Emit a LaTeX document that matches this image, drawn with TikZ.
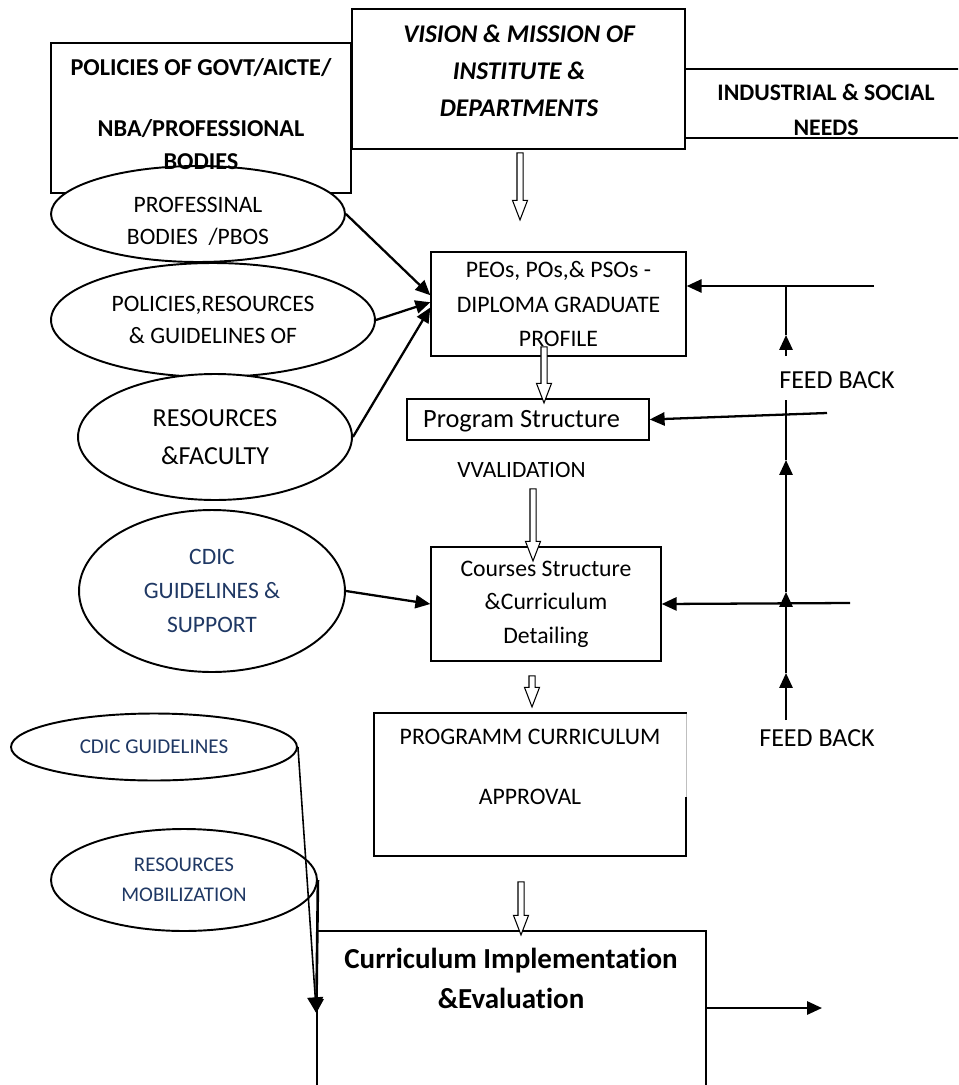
\documentclass[tikz,border=0pt]{standalone}
\usepackage{fontspec}
\setmainfont{Carlito}[Ligatures=NoCommon, RawFeature={-clig}]
\usepackage{tikz}
\usetikzlibrary{positioning, arrows.meta, shapes.geometric, shapes.arrows}
\definecolor{cdicblue}{HTML}{1F3864}
\newcommand{\fsz}[2]{\fontsize{#1}{#2}\selectfont}

\tikzset{
  box/.style={draw, rectangle, line width=0.8pt, inner sep=0pt, align=center},
  oval/.style={draw, ellipse, fill=white, line width=1.1pt, inner sep=0pt, align=center},
  txt/.style={inner sep=0pt, align=center},
  link/.style={line width=1.3pt, -{Triangle[length=8.5pt, width=7.5pt]}},
  fline/.style={line width=1.3pt},
  hollow/.style={draw, fill=white, single arrow, line width=0.6pt, inner sep=0.05cm,
    single arrow head extend=0.09cm, single arrow tip angle=42, rotate=-90},
}

\begin{document}
\begin{tikzpicture}[x=0.02cm, y=-0.02cm]
\useasboundingbox (0,0) rectangle (958,1085);
\clip (0,0) rectangle (958,1085);

% top boxes
\node[box, minimum width=6cm, minimum height=3cm] (govt) at (201,118) {};
\node[box, minimum width=5.64cm, minimum height=1.38cm, anchor=west] (needs) at (685,103.5) {};
\node[txt, font=\fsz{13.5}{19.8}\bfseries] (needstxt) at (826,109.5) {INDUSTRIAL \& SOCIAL\\NEEDS};
\node[box, minimum width=6.66cm, minimum height=2.8cm] (vision) at (518.5,79) {};
\node[txt, font=\fsz{14.5}{21}\bfseries\itshape] (visiontxt) at (519,71)
  {VISION \& MISSION OF\\INSTITUTE \&\\DEPARTMENTS};

% inputs on the left
\node[oval, minimum width=5.88cm, minimum height=1.92cm] (pbos) at (198,214) {};
\node[txt, font=\fsz{13.4}{18.1}] (pbostxt) at (198,221) {PROFESSINAL\\BODIES\ \ /PBOS};
\node[txt, font=\fsz{13.8}{18.7}\bfseries] (govttxt) at (201,114)
  {POLICIES OF GOVT/AICTE/\\[15.9pt]NBA/PROFESSIONAL\\BODIES};
\node[oval, font=\fsz{13.4}{18.7}, minimum width=6.48cm, minimum height=2.28cm] (policies) at (213,320)
  {POLICIES,RESOURCES\\\& GUIDELINES OF};
\node[oval, font=\fsz{14.8}{21.5}, minimum width=5.48cm, minimum height=2.52cm] (faculty) at (215,437)
  {RESOURCES\\\&FACULTY};
\node[oval, font=\fsz{13.4}{19.3}, text=cdicblue, minimum width=5.32cm, minimum height=3.24cm] (support) at (212,591)
  {CDIC\\GUIDELINES \&\\SUPPORT};
\node[oval, font=\fsz{12}{14}, text=cdicblue, minimum width=5.72cm, minimum height=1.34cm] (cdic) at (154,747)
  {CDIC GUIDELINES};
\node[oval, font=\fsz{11.9}{17}, text=cdicblue, minimum width=5.32cm, minimum height=2.04cm] (mobil) at (184,880)
  {RESOURCES\\MOBILIZATION};

% main column
\node[box, font=\fsz{13.5}{19.8}, minimum width=5.1cm, minimum height=2.08cm] (peo) at (558.5,304)
  {PEOs, POs,\& PSOs -\\DIPLOMA GRADUATE\\PROFILE};
\node[box, minimum width=4.84cm, minimum height=0.82cm] (prog) at (528,419.5) {};
\node[txt, font=\fsz{15}{18}] (progtxt) at (521.5,421) {Program Structure};
\node[txt, font=\fsz{13.3}{16}] (valid) at (521.5,470) {VVALIDATION};
\node[box, font=\fsz{13.5}{19}, minimum width=4.6cm, minimum height=2.28cm] (course) at (546,604)
  {Courses Structure\\\&Curriculum\\Detailing};
\node[box, minimum width=6.24cm, minimum height=2.86cm] (appr) at (530,784.5) {};
\draw[white, line width=1.2pt] (686,713.5) -- (686,797);
\draw[black!25, line width=0.3pt] (686,713.5) -- (686,797);
\node[txt, font=\fsz{13.5}{19.8}] (apprtxt) at (530,767) {PROGRAMM CURRICULUM\\[14.2pt]APPROVAL};
\node[box, minimum width=7.78cm, minimum height=4cm] (imp) at (511.5,1031) {};
\node[txt, font=\fsz{16.5}{22.7}\bfseries] (imptxt) at (511,978) {Curriculum Implementation\\\&Evaluation};

% hollow arrows down the column
\node[hollow, minimum height=1.34cm] (h1) at (520,182.5) {};
\node[hollow, minimum height=1.12cm] (h2) at (544,371) {};
\node[hollow, minimum height=1.44cm] (h3) at (533,521) {};
\node[hollow, minimum height=0.62cm] (h4) at (532,687.5) {};
\node[hollow, minimum height=1.06cm] (h5) at (521,904.5) {};

% arrows from the inputs
\draw[link] (pbos.east) -- ([yshift=5pt]peo.west);
\draw[link] (policies.east) -- ([yshift=1pt]peo.west);
\draw[link] (faculty.east) -- ([yshift=-2pt]peo.west);
\draw[link] (support.east) -- (course.west);
\draw[line width=0.9pt, -{Triangle[length=9pt, width=9pt]}] (cdic.east) -- ([yshift=10.2pt]imp.west);
\draw[line width=1.5pt, -{Triangle[length=8pt, width=8pt]}] (mobil.east) -- ([yshift=10.2pt]imp.west);

% feed back
\coordinate (fbin1) at (874,286);
\coordinate (fbin2) at (827,413);
\coordinate (fbin3) at (850,603);
\coordinate (fbbot) at (786,720);
\coordinate (fbup1) at (786,673);
\coordinate (fbup2) at (786,592);
\coordinate (fbup3) at (786,460);
\coordinate (fbmid) at (786,400);
\coordinate (fbgap) at (786,356);
\coordinate (fbup4) at (786,335);
\coordinate (fbtop) at (786,285);
\coordinate (outE) at (822,1008);
\draw[link] (fbin1) -- (peo.east |- fbin1);
\draw[link] (fbin2) -- (prog.east);
\draw[link] (fbin3) -- (course.east);
\draw[link] (fbbot) -- (fbup1);
\draw[link] (fbup1) -- (fbup2);
\draw[link] (fbup2) -- (fbup3);
\draw[fline] (fbup3) -- (fbmid);
\draw[link] (fbgap) -- (fbup4);
\draw[fline] (fbup4) -- (fbtop);
\node[txt, font=\fsz{14.8}{18}] (fb1) at (837,380) {FEED BACK};
\node[txt, font=\fsz{14.8}{18}] (fb2) at (817,738) {FEED BACK};

% output
\draw[link] (imp.east |- outE) -- (outE);
\end{tikzpicture}
\end{document}
